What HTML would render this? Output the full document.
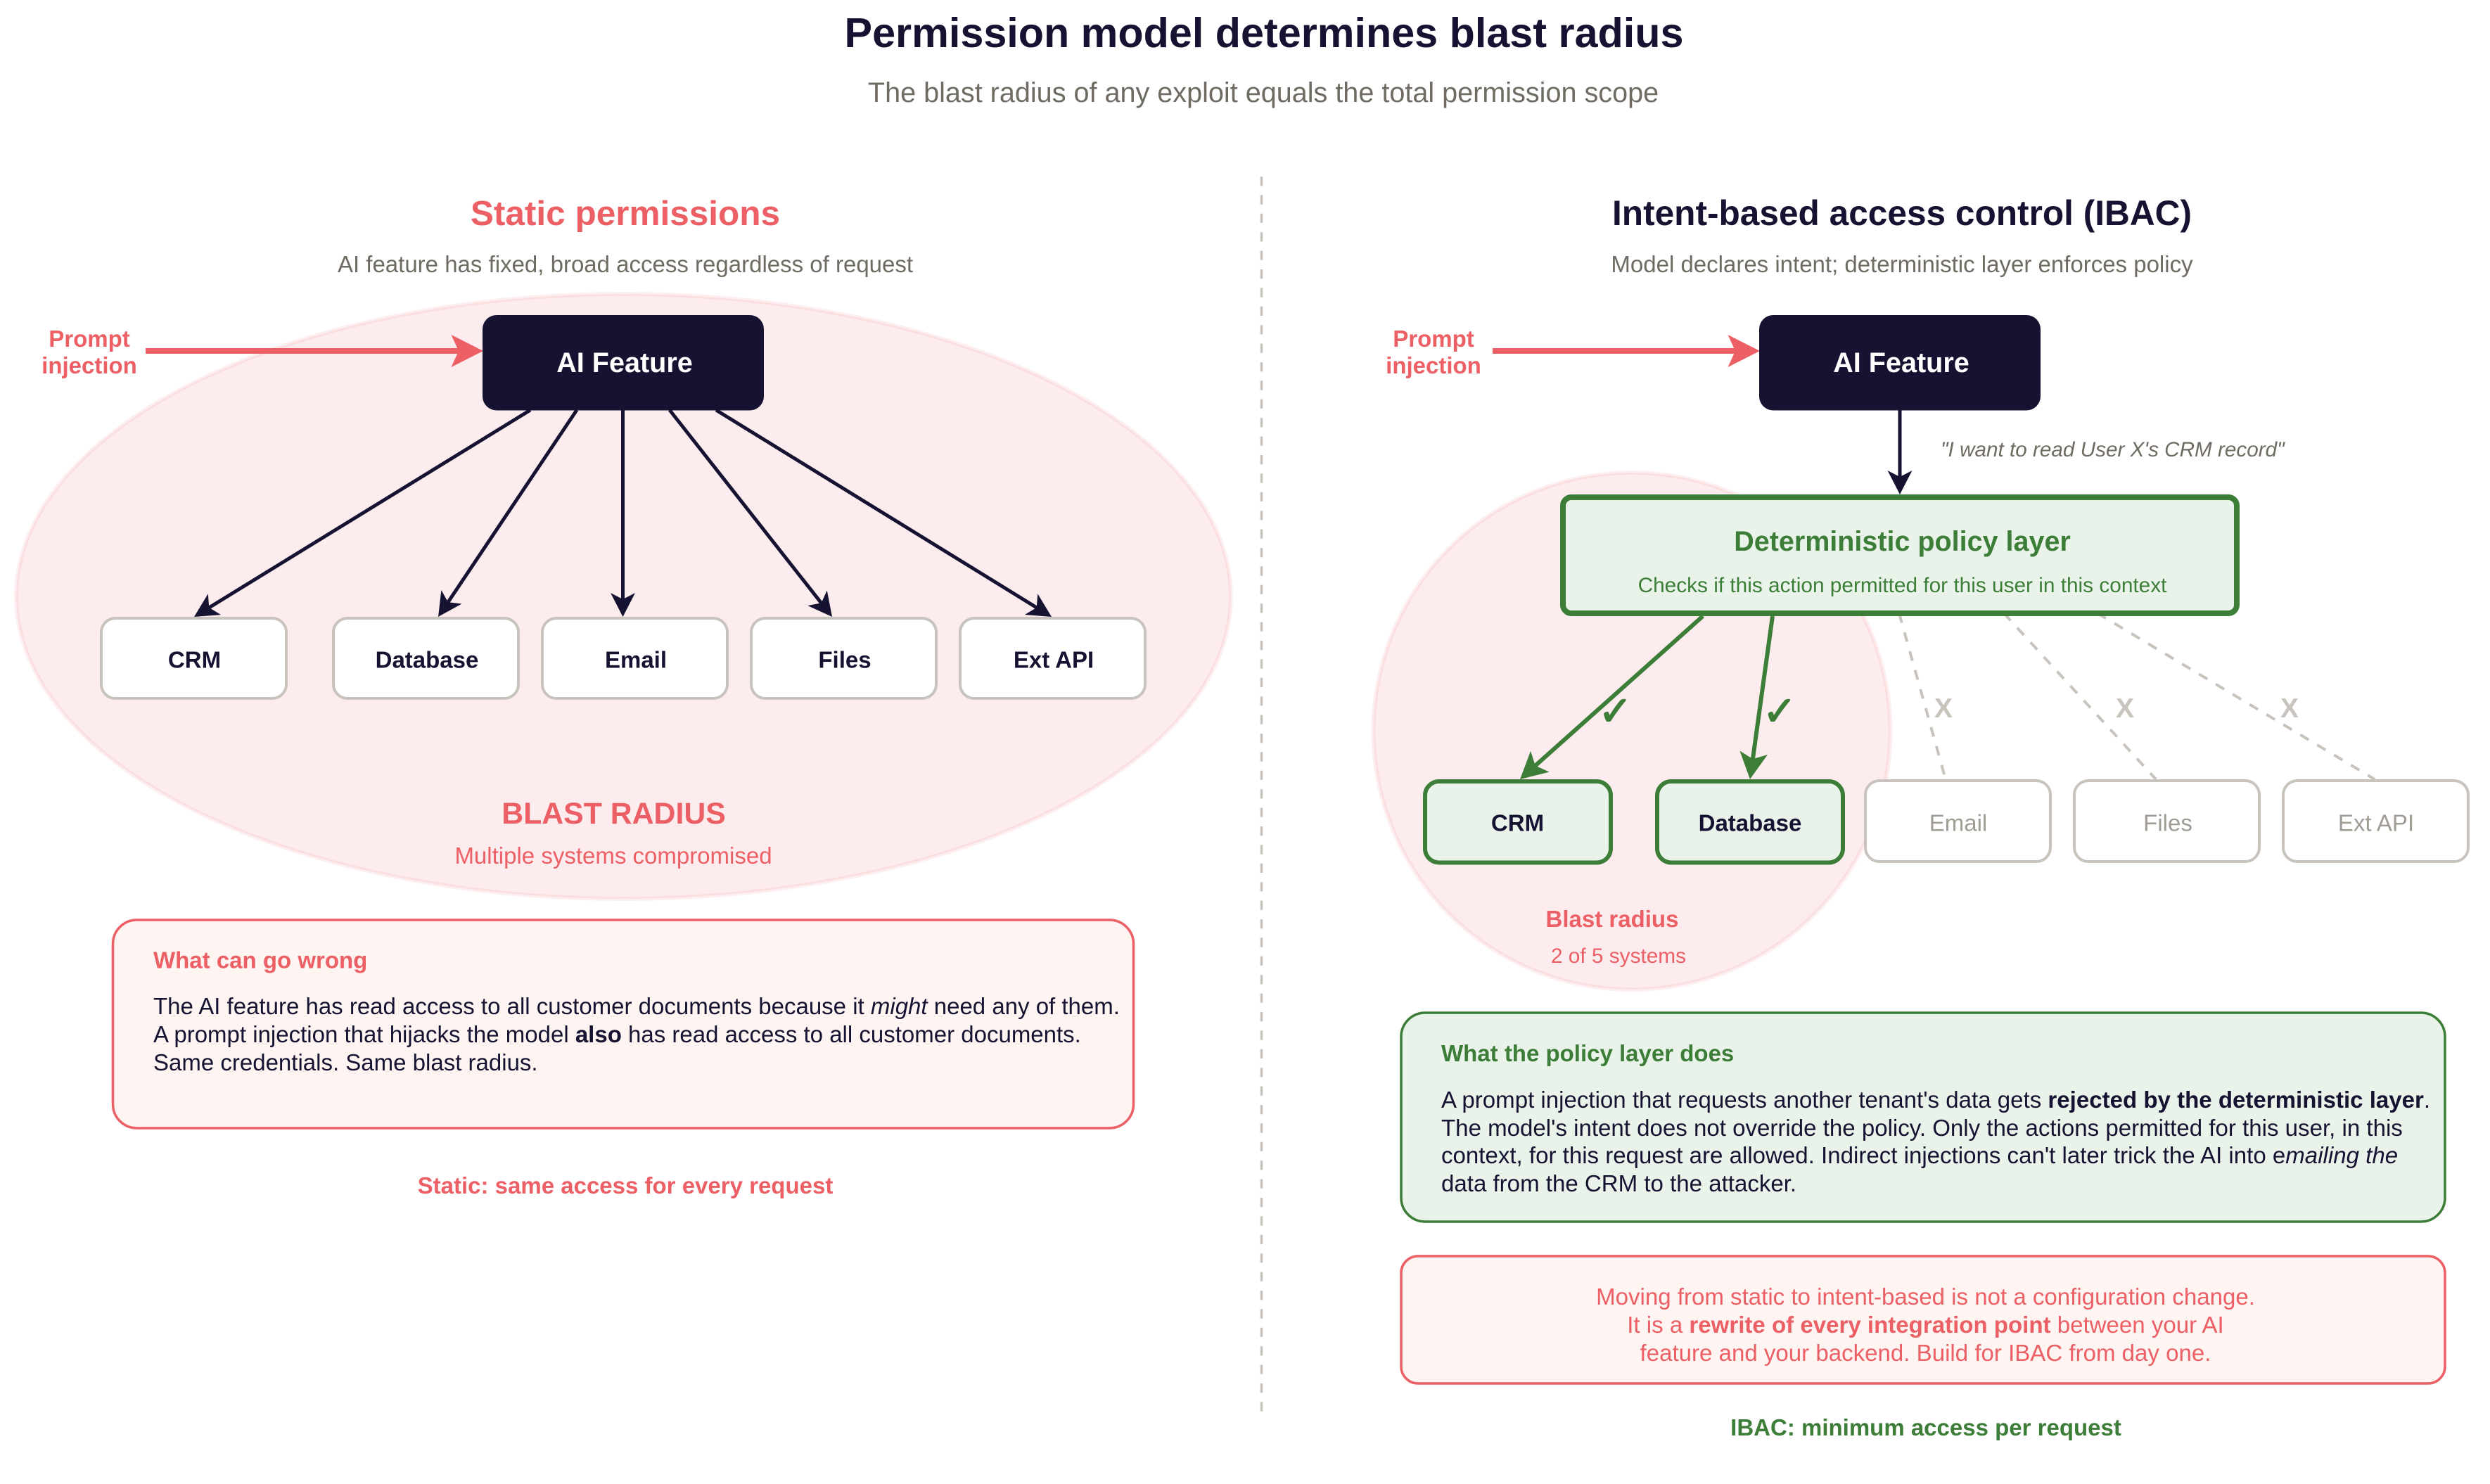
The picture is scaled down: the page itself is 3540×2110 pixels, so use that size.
<!DOCTYPE html>
<html><head><meta charset="utf-8"><style>
html,body{margin:0;padding:0;background:#fff}
svg{display:block}
text{font-family:"Liberation Sans",Arial,sans-serif;white-space:pre}
.b{font-weight:700}.i{font-style:italic}
.m{text-anchor:middle}
.navy{fill:#151331}.red{fill:#eb5f65}.green{fill:#3c7e38}.grey{fill:#6f6b62}.mute{fill:#a09c94}
</style></head><body>
<svg xmlns="http://www.w3.org/2000/svg" width="3540" height="2110" viewBox="0 0 3540 2110">
<defs>
<marker id="an" markerUnits="userSpaceOnUse" markerWidth="60" markerHeight="60" viewBox="-30 -30 60 60" refX="0" refY="0" orient="auto"><path d="M12,0 L-22,-17.5 L-13,0 L-22,17.5 Z" fill="#151331"/></marker>
<marker id="ag" markerUnits="userSpaceOnUse" markerWidth="80" markerHeight="80" viewBox="-40 -40 80 80" refX="0" refY="0" orient="auto"><path d="M12,0 L-26,-20 L-17,0 L-26,20 Z" fill="#3c7e38"/></marker>
</defs>
<rect width="3540" height="2110" fill="#fff"/>

<text class="b m navy" x="1797" y="67" font-size="59.3">Permission model determines blast radius</text>
<text class="m grey" x="1796" y="145" font-size="39.6">The blast radius of any exploit equals the total permission scope</text>

<line x1="1793.5" y1="251" x2="1793.5" y2="2007.5" stroke="#c8c4bd" stroke-width="3.5" stroke-dasharray="13.2 13.2"/>

<!-- LEFT -->
<text class="b m red" x="889" y="320" font-size="49.5">Static permissions</text>
<text class="m grey" x="889" y="387" font-size="33">AI feature has fixed, broad access regardless of request</text>
<ellipse cx="886.5" cy="848" rx="863.5" ry="430" fill="#eb5f70" fill-opacity=".12" stroke="#eb5f70" stroke-opacity=".1" stroke-width="6"/>

<line x1="207" y1="499" x2="660" y2="499" stroke="#eb5f65" stroke-width="8"/>
<path d="M687,499 L641.5,476 L652,499 L641.5,522 Z" fill="#eb5f65"/>
<text class="b m red" x="127" y="493" font-size="33">Prompt</text>
<text class="b m red" x="127" y="531" font-size="33">injection</text>
<rect x="686" y="448" width="400" height="135.5" rx="20" fill="#151331"/>
<text class="b m" fill="#fff" x="888" y="529" font-size="39.6">AI Feature</text>

<g stroke="#151331" stroke-width="5" fill="none">
<line x1="754" y1="583" x2="286.2" y2="870.7" marker-end="url(#an)"/>
<line x1="820" y1="583" x2="629.7" y2="867" marker-end="url(#an)"/>
<line x1="885.5" y1="583" x2="885.5" y2="865" marker-end="url(#an)"/>
<line x1="952" y1="583" x2="1175.6" y2="867.6" marker-end="url(#an)"/>
<line x1="1018" y1="583" x2="1484.8" y2="870.7" marker-end="url(#an)"/>
</g>

<g fill="#fff" stroke="#c8c4bd" stroke-width="4">
<rect x="144" y="879" width="263" height="114" rx="20"/>
<rect x="474" y="879" width="263" height="114" rx="20"/>
<rect x="771" y="879" width="263" height="114" rx="20"/>
<rect x="1068" y="879" width="263" height="114" rx="20"/>
<rect x="1365" y="879" width="263" height="114" rx="20"/>
</g>
<text class="b m navy" x="276.5" y="949.5" font-size="33">CRM</text>
<text class="b m navy" x="607" y="949.5" font-size="33">Database</text>
<text class="b m navy" x="904" y="949.5" font-size="33">Email</text>
<text class="b m navy" x="1201" y="949.5" font-size="33">Files</text>
<text class="b m navy" x="1498" y="949.5" font-size="33">Ext API</text>

<text class="b m red" x="872.5" y="1171" font-size="42.8">BLAST RADIUS</text>
<text class="m red" x="872" y="1228" font-size="33">Multiple systems compromised</text>

<rect x="160.5" y="1308" width="1451" height="296" rx="34" fill="#fef4f2" stroke="#eb5f65" stroke-width="3.5"/>
<text class="b red" x="218" y="1376.5" font-size="33">What can go wrong</text>
<text class="navy" x="218" y="1442" font-size="33">The AI feature has read access to all customer documents because it <tspan class="i">might</tspan> need any of them.</text>
<text class="navy" x="218" y="1482" font-size="33">A prompt injection that hijacks the model <tspan class="b">also</tspan> has read access to all customer documents.</text>
<text class="navy" x="218" y="1522" font-size="33">Same credentials. Same blast radius.</text>
<text class="b m red" x="889" y="1697" font-size="33">Static: same access for every request</text>

<!-- RIGHT -->
<text class="b m navy" x="2704" y="320" font-size="49.6">Intent-based access control (IBAC)</text>
<text class="m grey" x="2704" y="387" font-size="33">Model declares intent; deterministic layer enforces policy</text>

<line x1="2122" y1="499" x2="2475" y2="499" stroke="#eb5f65" stroke-width="8"/>
<path d="M2502,499 L2456.5,476 L2467,499 L2456.5,522 Z" fill="#eb5f65"/>
<text class="b m red" x="2038" y="493" font-size="33">Prompt</text>
<text class="b m red" x="2038" y="531" font-size="33">injection</text>
<rect x="2501" y="448" width="400" height="135.5" rx="20" fill="#151331"/>
<text class="b m" fill="#fff" x="2703" y="529" font-size="39.6">AI Feature</text>

<circle cx="2320" cy="1039.5" r="367.5" fill="#eb5f70" fill-opacity=".12" stroke="#eb5f70" stroke-opacity=".1" stroke-width="6"/>

<line x1="2701" y1="583" x2="2701" y2="691" stroke="#151331" stroke-width="5" marker-end="url(#an)"/>
<text class="i grey" x="2759" y="649" font-size="29.7">"I want to read User X's CRM record"</text>

<g stroke="#c8c4bd" stroke-width="4" stroke-dasharray="14 14" fill="none">
<line x1="2700" y1="872" x2="2766" y2="1108"/>
<line x1="2849" y1="872" x2="3065" y2="1108"/>
<line x1="2982" y1="872" x2="3376" y2="1108"/>
</g>

<rect x="2222" y="707" width="958" height="165" rx="12" fill="#e9f3ea" stroke="#3c7e38" stroke-width="8"/>
<text class="b m green" x="2704.5" y="783" font-size="39.5">Deterministic policy layer</text>
<text class="m green" x="2704.5" y="842" font-size="29.8">Checks if this action permitted for this user in this context</text>

<g stroke="#3c7e38" stroke-width="6" fill="none">
<line x1="2421" y1="876" x2="2170" y2="1100" marker-end="url(#ag)"/>
<line x1="2520" y1="876" x2="2489.6" y2="1096" marker-end="url(#ag)"/>
</g>
<text class="m green" x="2296.5" y="1031" font-size="58" stroke="#3c7e38" stroke-width="1.5" style="font-family:'DejaVu Sans',sans-serif">✓</text>
<text class="m green" x="2530" y="1031" font-size="58" stroke="#3c7e38" stroke-width="1.5" style="font-family:'DejaVu Sans',sans-serif">✓</text>
<text class="b m" fill="#c8c4bd" x="2763" y="1020" font-size="39">X</text>
<text class="b m" fill="#c8c4bd" x="3021" y="1020" font-size="39">X</text>
<text class="b m" fill="#c8c4bd" x="3255" y="1020" font-size="39">X</text>

<g fill="#e9f3ea" stroke="#3c7e38" stroke-width="6">
<rect x="2026" y="1111" width="264" height="115.5" rx="20"/>
<rect x="2356" y="1111" width="264" height="115.5" rx="20"/>
</g>
<g fill="#fff" stroke="#c8c4bd" stroke-width="4">
<rect x="2652" y="1110" width="263" height="115" rx="20"/>
<rect x="2949" y="1110" width="263" height="115" rx="20"/>
<rect x="3246" y="1110" width="263" height="115" rx="20"/>
</g>
<text class="b m navy" x="2157.5" y="1181.5" font-size="33">CRM</text>
<text class="b m navy" x="2488" y="1181.5" font-size="33">Database</text>
<text class="m mute" x="2784" y="1181.5" font-size="33">Email</text>
<text class="m mute" x="3082" y="1181.5" font-size="33">Files</text>
<text class="m mute" x="3378" y="1181.5" font-size="33">Ext API</text>

<text class="b m red" x="2292" y="1318" font-size="33">Blast radius</text>
<text class="m red" x="2301" y="1369" font-size="29.8">2 of 5 systems</text>

<rect x="1992" y="1440" width="1484" height="297" rx="34" fill="#e9f3ea" stroke="#3c7e38" stroke-width="3.5"/>
<text class="b green" x="2049" y="1509" font-size="33">What the policy layer does</text>
<text class="navy" x="2049" y="1575" font-size="33.05">A prompt injection that requests another tenant's data gets <tspan class="b">rejected by the deterministic layer</tspan>.</text>
<text class="navy" x="2049" y="1615" font-size="33.05">The model's intent does not override the policy. Only the actions permitted for this user, in this</text>
<text class="navy" x="2049" y="1654" font-size="33.05">context, for this request are allowed. Indirect injections can't later trick the AI into e<tspan class="i">mailing the</tspan></text>
<text class="navy" x="2049" y="1694" font-size="33.05">data from the CRM to the attacker.</text>

<rect x="1992" y="1786" width="1484" height="181" rx="24" fill="#fef4f2" stroke="#eb5f65" stroke-width="3.5"/>
<text class="m red" x="2737.5" y="1855" font-size="33.05">Moving from static to intent-based is not a configuration change.</text>
<text class="m red" x="2737.5" y="1895" font-size="33.05">It is a <tspan class="b">rewrite of every integration point</tspan> between your AI</text>
<text class="m red" x="2737.5" y="1935" font-size="33.05">feature and your backend. Build for IBAC from day one.</text>
<text class="b m green" x="2738" y="2041" font-size="33">IBAC: minimum access per request</text>
</svg>
</body></html>
